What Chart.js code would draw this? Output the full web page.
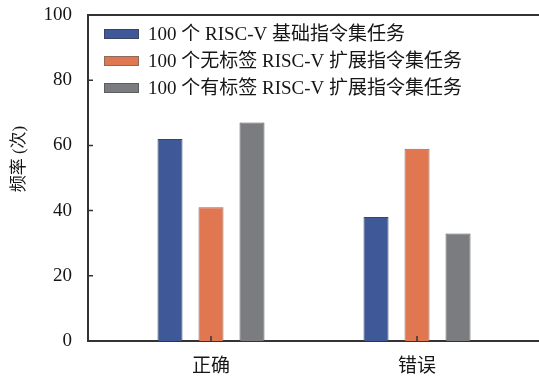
<!DOCTYPE html>
<html>
<head>
<meta charset="utf-8">
<script src="https://cdn.jsdelivr.net/npm/chart.js@4"></script>
<style>
  html, body { margin: 0; padding: 0; background: #fff; }
  #chart { display: block; }
</style>
</head>
<body>
<canvas id="chart" width="539" height="379"></canvas>
<script>
// Task outcome counts per task set
const categories = ['正确', '错误'];
const seriesNames = [
    '100 个 RISC-V 基础指令集任务',
    '100 个无标签 RISC-V 扩展指令集任务',
    '100 个有标签 RISC-V 扩展指令集任务'
];
const basicTasks = [62, 38];
const unlabeledExtTasks = [41, 59];
const labeledExtTasks = [67, 33];
const yTicks = [0, 20, 40, 60, 80, 100];
const yTitle = '频率 (次)';

const FONT = '"Liberation Serif", "Noto Sans CJK SC", serif';
const AXIS_COLOR = '#333';
const TEXT_COLOR = '#151515';

const toPoints = values => values.map((v, i) => ({ x: i, y: v }));

// Frame, inward tick marks, rotated y title and the in-plot legend
const decorations = {
    id: 'decorations',
    afterDraw(chart) {
        const { ctx, chartArea, scales } = chart;
        ctx.save();

        // top frame line
        ctx.strokeStyle = AXIS_COLOR;
        ctx.lineWidth = 2;
        ctx.beginPath();
        ctx.moveTo(chartArea.left, chartArea.top);
        ctx.lineTo(chartArea.right, chartArea.top);
        ctx.stroke();

        // ticks pointing into the plot
        ctx.lineWidth = 1.5;
        ctx.beginPath();
        yTicks.forEach(v => {
            const y = scales.y.getPixelForValue(v);
            ctx.moveTo(chartArea.left, y);
            ctx.lineTo(chartArea.left + 5, y);
        });
        categories.forEach((c, i) => {
            const x = scales.x.getPixelForValue(i);
            ctx.moveTo(x, chartArea.bottom);
            ctx.lineTo(x, chartArea.bottom - 5);
        });
        ctx.stroke();

        // y axis title
        ctx.fillStyle = TEXT_COLOR;
        ctx.font = '17px ' + FONT;
        ctx.textAlign = 'center';
        ctx.textBaseline = 'middle';
        ctx.translate(20, 159);
        ctx.rotate(-Math.PI / 2);
        ctx.fillText(yTitle, 0, 0);
        ctx.setTransform(1, 0, 0, 1, 0, 0);

        // legend
        ctx.font = '19px ' + FONT;
        ctx.textAlign = 'left';
        chart.data.datasets.forEach((ds, i) => {
            const y = 34 + i * 27;
            ctx.fillStyle = ds.backgroundColor;
            ctx.fillRect(104, y - 5, 35, 10);
            ctx.strokeStyle = ds.borderColor;
            ctx.lineWidth = 1;
            ctx.strokeRect(104.5, y - 4.5, 34, 9);
            ctx.fillStyle = TEXT_COLOR;
            ctx.fillText(ds.label, 148, y + 1);
        });

        ctx.restore();
    }
};

new Chart(document.getElementById('chart'), {
    type: 'bar',
    data: {
        datasets: [
            {
                label: seriesNames[0],
                data: toPoints(basicTasks),
                backgroundColor: '#3f5897',
                borderColor: '#3a4463'
            },
            {
                label: seriesNames[1],
                data: toPoints(unlabeledExtTasks),
                backgroundColor: '#e17751',
                borderColor: '#8a6b60'
            },
            {
                label: seriesNames[2],
                data: toPoints(labeledExtTasks),
                backgroundColor: '#7b7c80',
                borderColor: '#5c5d60'
            }
        ]
    },
    options: {
        responsive: false,
        animation: false,
        layout: { padding: { top: 15, left: 0, right: 0, bottom: 0 } },
        datasets: {
            bar: {
                borderWidth: 1,
                categoryPercentage: 0.597,
                barPercentage: 0.61
            }
        },
        plugins: {
            legend: { display: false },
            tooltip: { enabled: false }
        },
        scales: {
            x: {
                type: 'linear',
                offset: false,
                min: -0.597,
                max: 1.592,
                afterBuildTicks: scale => {
                    scale.ticks = categories.map((c, i) => ({ value: i }));
                },
                afterFit: scale => { scale.height = 38; },
                grid: { display: false, drawTicks: false },
                border: { display: true, color: AXIS_COLOR, width: 2 },
                ticks: {
                    padding: 15,
                    color: TEXT_COLOR,
                    font: { family: FONT, size: 19 },
                    callback: v => categories[v]
                }
            },
            y: {
                min: 0,
                max: 100,
                afterBuildTicks: scale => {
                    scale.ticks = yTicks.map(v => ({ value: v }));
                },
                afterFit: scale => {
                    scale.width = 88;
                    scale.paddingTop = 0;
                    scale.paddingBottom = 0;
                },
                grid: { display: false, drawTicks: false },
                border: { display: true, color: AXIS_COLOR, width: 2 },
                ticks: {
                    padding: 16,
                    color: TEXT_COLOR,
                    font: { family: FONT, size: 19 }
                }
            }
        }
    },
    plugins: [decorations]
});
</script>
</body>
</html>
